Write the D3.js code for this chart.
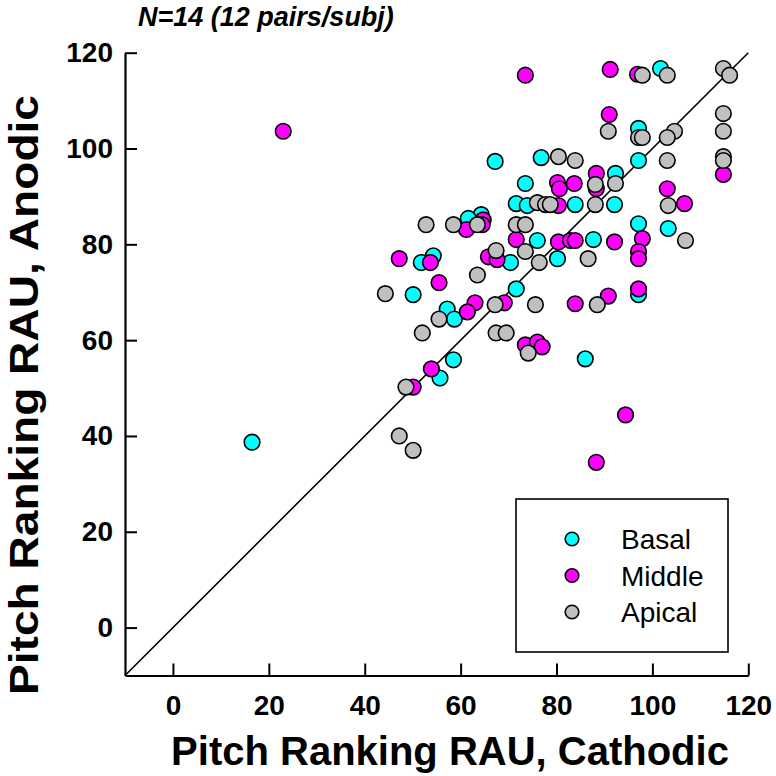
<!DOCTYPE html>
<html><head><meta charset="utf-8">
<script src="https://cdn.jsdelivr.net/npm/d3@7"></script>
<style>body{margin:0;background:#fff}svg{display:block}</style>
</head><body><div id="chart"></div>
<script>
const title = "N=14 (12 pairs/subj)";
const xLabel = "Pitch Ranking RAU, Cathodic";
const yLabel = "Pitch Ranking RAU, Anodic";
const tickValues = [0, 20, 40, 60, 80, 100, 120];
const seriesNames = ["Basal", "Middle", "Apical"];
const seriesColors = ["#00ffff", "#ff00ff", "#c0c0c0"];

const basalX = [16.5,67.2,76.8,73.5,92.3,71.6,73.9,83.9,92.1,97.1,103.3,97.1,97.1,101.7,64.3,61.6,76.0,87.7,51.8,54.3,70.4,80.2,50.1,71.6,57.2,58.7,58.5,55.7,86.0,97.1];
const basalY = [38.7,97.3,98.1,92.7,94.8,88.5,88.1,88.3,88.3,84.3,83.3,97.5,104.2,116.7,86.2,85.4,80.8,81.0,76.2,77.6,76.2,77.0,69.5,70.7,66.5,64.4,55.9,52.1,56.1,69.5];

const middleX = [23.0,73.5,91.2,96.9,91.0,80.2,80.6,83.7,88.3,88.3,103.1,106.7,80.4,64.7,61.2,64.5,71.6,80.4,82.9,83.9,92.1,97.9,97.1,97.1,47.2,53.7,65.8,67.6,55.5,63.0,61.4,69.1,83.9,90.8,97.1,73.5,76.0,77.0,53.9,50.1,94.4,88.3,114.8];
const middleY = [103.6,115.3,116.5,115.5,107.1,92.9,91.6,92.7,94.8,91.6,91.6,88.5,88.1,85.1,83.1,84.1,81.0,80.5,80.8,80.8,80.5,81.2,78.5,77.0,77.0,76.2,77.4,76.8,72.0,67.8,65.9,67.8,67.6,69.2,70.7,59.0,59.6,58.6,54.0,50.2,44.4,34.5,94.6];

const apicalX = [114.8,116.1,97.9,103.1,114.8,90.8,104.6,103.1,97.1,97.9,114.8,114.8,114.8,80.4,83.9,103.1,88.1,92.3,76.0,77.7,78.7,88.1,103.3,52.8,58.5,63.5,71.6,73.5,73.5,106.9,67.4,76.4,86.6,63.5,44.3,67.2,75.6,88.5,55.5,52.0,67.4,69.5,74.1,48.6,47.2,50.1];
const apicalY = [116.7,115.3,115.3,115.3,107.3,103.6,103.6,102.3,102.3,102.3,103.6,98.3,97.5,98.3,97.5,97.5,92.5,92.7,88.7,88.3,88.3,88.3,88.1,84.1,84.1,84.1,84.1,84.1,78.5,80.8,78.7,76.2,77.0,73.6,69.7,67.4,67.4,67.4,64.4,61.5,61.5,61.5,57.3,50.2,40.0,37.0];

const seriesX = [basalX, middleX, apicalX];
const seriesY = [basalY, middleY, apicalY];

const W = 776, H = 776;
const svg = d3.select("#chart").append("svg").attr("width", W).attr("height", H);
const x = d3.scaleLinear().domain([-10, 120]).range([125, 748.3]);
const y = d3.scaleLinear().domain([-10, 120]).range([675.5, 52.7]);
const font = "Arial, 'Liberation Sans', Helvetica, sans-serif";

// diagonal
svg.append("line")
  .attr("x1", x(-10)).attr("y1", y(-10)).attr("x2", x(120)).attr("y2", y(120))
  .attr("stroke", "#000").attr("stroke-width", 1.6);

// points
seriesNames.forEach((name, i) => {
  const pts = seriesX[i].map((v, j) => [v, seriesY[i][j]]);
  svg.append("g").selectAll("circle").data(pts).join("circle")
    .attr("cx", d => x(d[0])).attr("cy", d => y(d[1])).attr("r", 7.8)
    .attr("fill", seriesColors[i]).attr("stroke", "#000").attr("stroke-width", 1.6);
});

// axes
const xAxis = d3.axisBottom(x).tickValues(tickValues).tickSizeInner(-12).tickSizeOuter(0).tickPadding(20);
const yAxis = d3.axisLeft(y).tickValues(tickValues).tickSizeInner(-12).tickSizeOuter(0).tickPadding(12);
const gx = svg.append("g").attr("transform", `translate(0,${y(-10)})`).call(xAxis);
const gy = svg.append("g").attr("transform", `translate(${x(-10)},0)`).call(yAxis);
[gx, gy].forEach(g => {
  g.select(".domain").attr("stroke", "#000").attr("stroke-width", 2.2);
  g.selectAll(".tick line").attr("stroke", "#000").attr("stroke-width", 2);
  g.selectAll(".tick text").attr("fill", "#000").style("font-family", font)
    .style("font-size", "28px").style("font-weight", "bold");
});
gx.selectAll(".tick text").attr("dy", "0.71em");

// titles
svg.append("text").attr("x", 138).attr("y", 26).text(title)
  .style("font-family", font).style("font-size", "27px").style("font-weight", "bold").style("font-style", "italic");
svg.append("text").attr("x", 450).attr("y", 765).attr("text-anchor", "middle").text(xLabel)
  .style("font-family", font).style("font-size", "40px").style("font-weight", "bold");
svg.append("text").attr("transform", `translate(38,395) rotate(-90)`).attr("text-anchor", "middle").text(yLabel)
  .attr("textLength", 600).attr("lengthAdjust", "spacingAndGlyphs")
  .style("font-family", font).style("font-size", "40px").style("font-weight", "bold");

// legend
const lg = svg.append("g");
lg.append("rect").attr("x", 516).attr("y", 499).attr("width", 212).attr("height", 153)
  .attr("fill", "#fff").attr("stroke", "#000").attr("stroke-width", 1.6);
const ly = d3.scalePoint().domain(seriesNames).range([539, 612]);
seriesNames.forEach((name, i) => {
  lg.append("circle").attr("cx", 572).attr("cy", ly(name)).attr("r", 6.8)
    .attr("fill", seriesColors[i]).attr("stroke", "#000").attr("stroke-width", 1.6);
  lg.append("text").attr("x", 621).attr("y", ly(name)).attr("dy", "0.36em").text(name)
    .style("font-family", font).style("font-size", "28px");
});
</script></body></html>
